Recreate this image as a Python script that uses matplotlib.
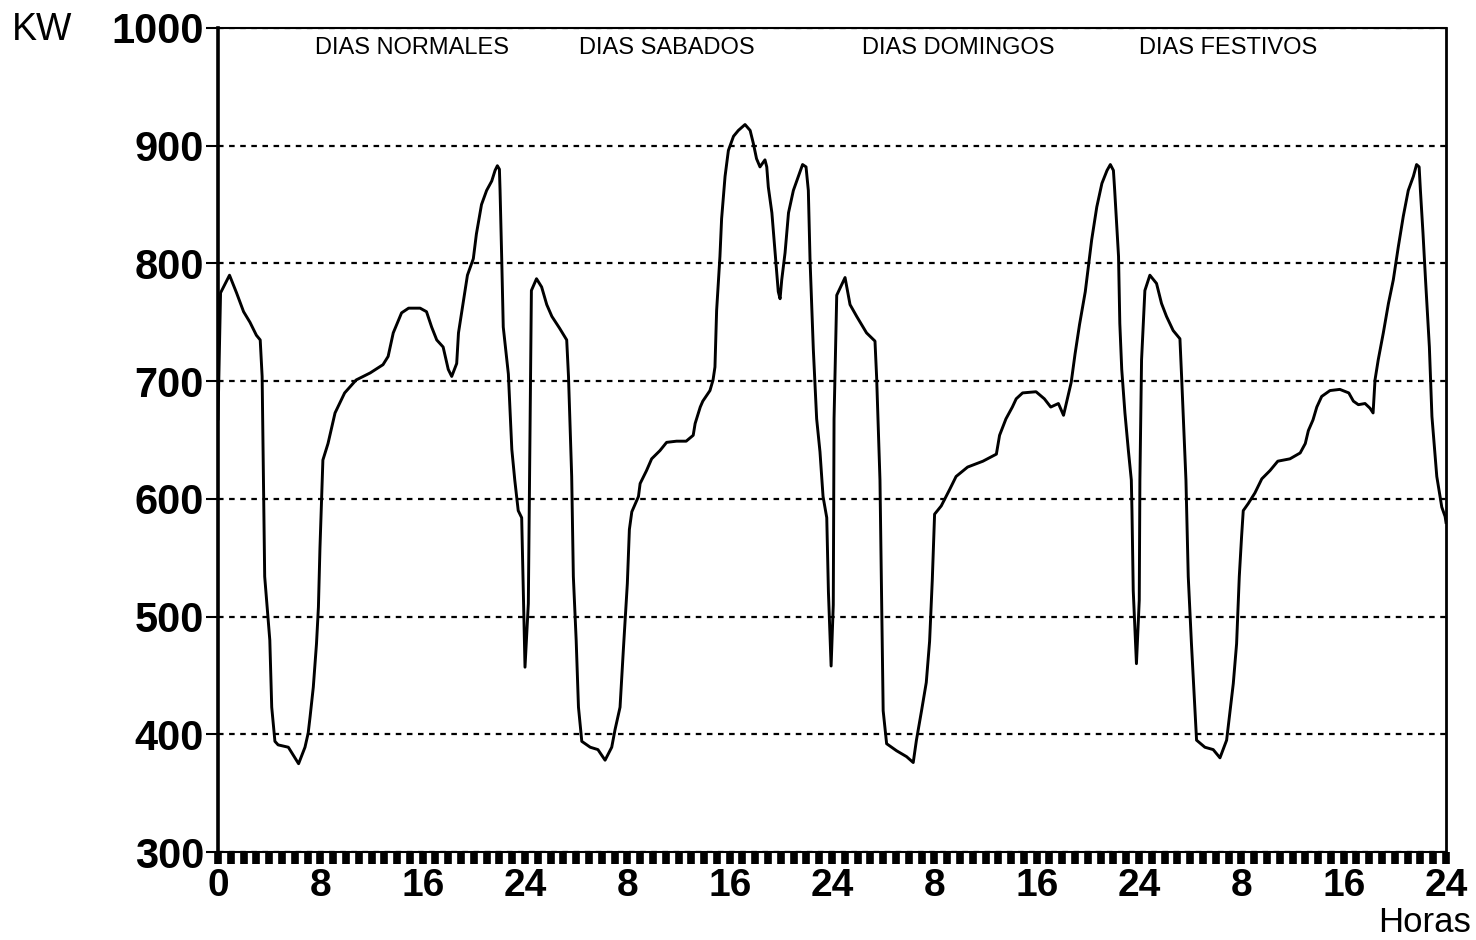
import matplotlib
matplotlib.use("Agg")
import matplotlib.pyplot as plt
import numpy as np

plt.rcParams['font.family'] = ['Liberation Sans', 'DejaVu Sans']

# ---- data (hours within each day, kW) ----
normales_h = [0.0, 0.2, 0.9, 1.45, 2.0, 2.5, 3.0, 3.3, 3.45, 3.65, 4.05, 4.2, 4.45, 4.7, 5.5, 5.9,
              6.3, 6.8, 7.05, 7.2, 7.45, 7.7, 7.85, 7.97, 8.2, 8.6, 9.15, 9.9, 10.8, 11.9, 12.9, 13.3,
              13.7, 14.35, 14.9, 15.8, 16.3, 16.7, 17.1, 17.6, 18.0, 18.27, 18.66, 18.8, 19.2, 19.5,
              19.96, 20.2, 20.6, 21.0, 21.4, 21.66, 21.84, 22.0, 22.05, 22.18, 22.3, 22.7, 22.97,
              23.2, 23.47, 23.74, 23.87, 24.0]
normales_kw = [668, 775, 790, 775, 759, 750, 739, 735, 704, 534, 480, 423, 394, 391, 389, 382,
               375, 389, 401, 415, 440, 477, 508, 558, 633, 647, 673, 690, 701, 707, 714, 721,
               741, 758, 762, 762, 759, 746, 735, 729, 710, 704, 715, 741, 769, 790,
               804, 825, 850, 862, 870, 879, 883, 880, 862, 804, 746, 706, 642,
               616, 590, 584, 520, 457]

sabados_h = [0.26, 0.4, 0.5, 0.9, 1.3, 1.7, 2.1, 2.7, 3.26, 3.4, 3.65, 3.78, 4.0, 4.18, 4.44, 5.1,
             5.7, 6.26, 6.78, 7.04, 7.43, 7.69, 8.0, 8.16, 8.35, 8.87, 9.0, 9.5, 9.9, 10.55, 11.07,
             11.85, 12.6, 13.15, 13.3, 13.7, 13.9, 14.46, 14.7, 14.85, 14.98, 15.24, 15.37, 15.64,
             15.9, 16.3, 16.68, 17.2, 17.6, 17.85, 18.1, 18.37, 18.76, 18.9, 19.02, 19.3, 19.55,
             19.8, 19.94, 20.07, 20.33, 20.6, 20.98, 21.37, 21.7, 21.97, 22.15, 22.28, 22.54,
             22.8, 23.06, 23.3, 23.59, 23.72, 23.93]
sabados_kw = [511, 666, 777, 787, 780, 765, 755, 745, 735, 704, 619, 534, 480, 423, 394, 389,
              387, 378, 389, 404, 423, 472, 528, 574, 589, 602, 613, 624, 634, 641, 648,
              649, 649, 654, 664, 678, 683, 692, 701, 712, 760, 806, 838, 874,
              896, 908, 913, 918, 913, 902, 889, 882, 888, 882, 865, 843, 809,
              776, 770, 786, 809, 843, 862, 874, 884, 882, 862, 804, 727,
              668, 640, 602, 584, 521, 458]

domingos_h = [0.1, 0.16, 0.37, 1.02, 1.41, 1.93, 2.7, 3.36, 3.49, 3.75, 4.0, 4.27, 5.05, 5.83,
              6.35, 6.6, 7.0, 7.37, 7.63, 7.84, 8.02, 8.54, 9.2, 9.7, 10.6, 11.8, 12.85, 13.1,
              13.6, 14.1, 14.4, 14.9, 15.95, 16.6, 17.1, 17.7, 18.1, 18.4, 18.7, 19.0, 19.35,
              19.8, 20.3, 20.7, 21.1, 21.5, 21.76, 22.0, 22.1, 22.4, 22.5, 22.65, 22.9, 23.17,
              23.4, 23.45, 23.55, 23.8]
domingos_kw = [510, 668, 773, 788, 765, 755, 741, 734, 703, 616, 420, 392, 386, 381,
               376, 395, 420, 444, 479, 531, 587, 594, 608, 619, 627, 632, 638, 654,
               668, 678, 685, 690, 691, 685, 678, 681, 671, 685, 699, 723, 748,
               776, 820, 848, 868, 879, 884, 879, 862, 806, 749, 710, 673, 641,
               616, 590, 522, 460]

festivos_h = [0.02, 0.07, 0.2, 0.46, 0.85, 1.37, 1.76, 2.15, 2.67, 3.2, 3.33, 3.67, 3.85, 4.1,
              4.37, 4.5, 5.15, 5.8, 6.33, 6.85, 7.1, 7.37, 7.63, 7.84, 8.02, 8.15, 8.54, 9.06,
              9.6, 10.24, 10.85, 11.8, 12.6, 13.0, 13.24, 13.6, 13.9, 14.28, 14.93, 15.7, 16.4,
              16.76, 17.15, 17.67, 18.06, 18.3, 18.45, 18.7, 19.1, 19.5, 19.88, 20.27, 20.66,
              21.05, 21.45, 21.7, 21.9, 22.0, 22.2, 22.4, 22.7, 22.9, 23.28, 23.67, 23.93, 24.0]
festivos_kw = [514, 616, 718, 777, 790, 783, 766, 755, 743, 736, 704, 616, 534, 477,
               421, 395, 389, 387, 380, 395, 418, 443, 477, 534, 568, 590, 596, 605,
               617, 624, 632, 634, 639, 647, 658, 667, 678, 687, 692, 693, 690,
               683, 680, 681, 677, 673, 701, 718, 741, 766, 786, 814, 840,
               862, 874, 884, 882, 862, 826, 786, 729, 670, 619, 593, 585, 580]

day_titles = ["DIAS NORMALES", "DIAS SABADOS", "DIAS DOMINGOS", "DIAS FESTIVOS"]
title_pos = [15.2, 35.1, 57.9, 79.0]
xtick_vals = list(range(0, 97, 8))
xtick_labels = ["0", "8", "16", "24", "8", "16", "24", "8", "16", "24", "8", "16", "24"]
ytick_vals = list(range(300, 1001, 100))

# ---- assemble series ----
days = [(normales_h, normales_kw), (sabados_h, sabados_kw),
        (domingos_h, domingos_kw), (festivos_h, festivos_kw)]
x_all, y_all = [], []
for i, (hh, kk) in enumerate(days):
    x_all.extend(np.array(hh) + 24 * i)
    y_all.extend(kk)

W, H = 1476, 940
fig = plt.figure(figsize=(W / 100, H / 100), dpi=100)
fig.patch.set_facecolor('white')
L, R, T, B = 218, 1446, 28, 852
ax = fig.add_axes([L / W, 1 - B / H, (R - L) / W, (B - T) / H])
ax.set_xlim(0, 96)
ax.set_ylim(300, 1000)

ax.plot(x_all, y_all, color='black', lw=2.1, zorder=3)

ax.set_yticks(ytick_vals)
ax.set_yticklabels([str(v) for v in ytick_vals], fontsize=30, fontweight='bold')
ax.yaxis.grid(True, color='black', linestyle=(0, (2.5, 2.5)), lw=1.6)
ax.set_axisbelow(True)

ax.set_xticks(xtick_vals)
ax.set_xticklabels(xtick_labels, fontsize=28, fontweight='bold')
ax.set_xticks(range(0, 97), minor=True)
ax.tick_params(axis='x', which='both', direction='out', length=8.5, width=5.5, color='black')
ax.tick_params(axis='x', which='major', pad=3)
ax.tick_params(axis='y', which='major', direction='out', length=9, width=1.5, pad=1)

for side, lw in [('left', 2.6), ('right', 2.0), ('top', 1.5), ('bottom', 1.5)]:
    ax.spines[side].set_linewidth(lw)
    ax.spines[side].set_color('black')

for t, p in zip(day_titles, title_pos):
    ax.text(p, 983, t, ha='center', va='center', fontsize=17)

fig.text(12 / W, 1 - 12 / H, "KW", ha='left', va='top', fontsize=27)
fig.text(1471 / W, 1 - 939 / H, "Horas", ha='right', va='bottom', fontsize=25)

fig.savefig("out.png", dpi=100, facecolor='white')
